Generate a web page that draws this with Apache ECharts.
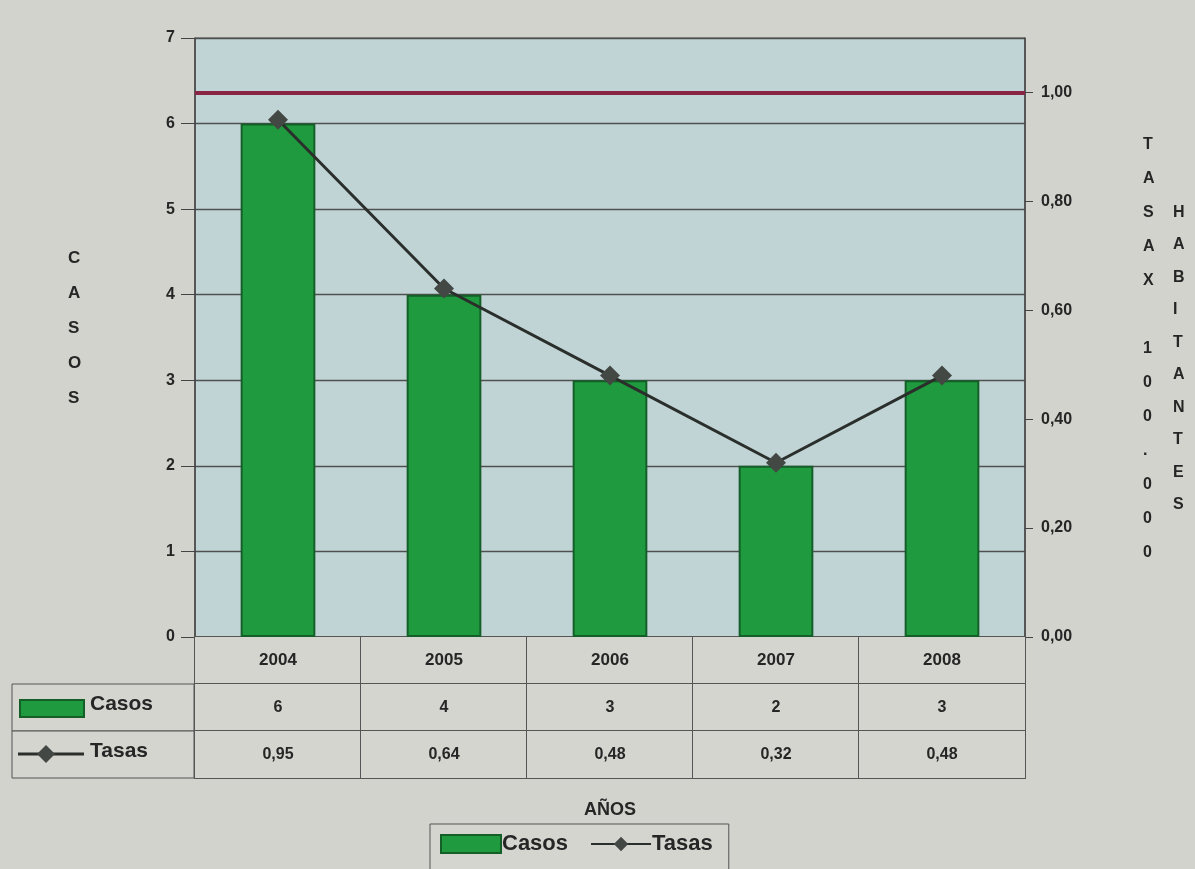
<!DOCTYPE html>
<html>
<head>
<meta charset="utf-8">
<script src="https://cdn.jsdelivr.net/npm/echarts@6/dist/echarts.min.js"></script>
<style>
  html, body { margin: 0; padding: 0; background: #d2d3cd; }
  #chart { width: 1195px; height: 869px; }
</style>
</head>
<body>
<div id="chart"></div>
<script>
  // data
  const years = ['2004', '2005', '2006', '2007', '2008'];
  const casos = [6, 4, 3, 2, 3];
  const tasas = [0.95, 0.64, 0.48, 0.32, 0.48];
  const casosTicks = { min: 0, max: 7, interval: 1 };
  const tasasTicks = { min: 0, max: 1.1, interval: 0.2 };
  const umbral = 1.0;

  const green = '#1f9a3e';
  const greenDark = '#145f28';
  const ink = '#262626';
  const font = 'Liberation Sans';
  const comma = v => v.toFixed(2).replace('.', ',');

  const cell = size => ({
    width: 166,
    height: 47,
    align: 'center',
    verticalAlign: 'middle',
    fontSize: size,
    fontWeight: 'bold',
    fontFamily: font,
    color: ink,
    borderColor: '#555',
    borderWidth: 1,
    backgroundColor: '#d4d5cf'
  });

  const chart = echarts.init(document.getElementById('chart'));

  chart.setOption({
    backgroundColor: '#d2d3cd',
    animation: false,
    textStyle: { fontFamily: font, color: ink },
    grid: {
      left: 195,
      right: 170,
      top: 38,
      bottom: 232,
      show: true,
      backgroundColor: '#c0d4d6',
      borderColor: '#4a4a4a',
      borderWidth: 1
    },
    legend: {
      left: 430,
      top: 824,
      data: [{ name: 'Casos', icon: 'rect' }, { name: 'Tasas' }],
      itemWidth: 60,
      itemHeight: 18,
      itemGap: 22,
      padding: [9, 16, 16, 10],
      borderColor: '#555',
      borderWidth: 1,
      backgroundColor: '#d4d5cf',
      textStyle: { fontSize: 22, fontWeight: 'bold', fontFamily: font, color: ink, padding: [0, 0, 0, -4] }
    },
    xAxis: {
      type: 'category',
      data: years,
      name: 'AÑOS',
      nameLocation: 'middle',
      nameGap: 164,
      nameTextStyle: { fontSize: 18, fontWeight: 'bold', color: ink },
      axisLine: { show: true, lineStyle: { color: '#444', width: 1.5 } },
      axisTick: { show: false },
      axisLabel: {
        interval: 0,
        margin: 0,
        verticalAlign: 'top',
        formatter: (value, i) =>
          `{y|${value}}\n{c|${casos[i]}}\n{t|${comma(tasas[i])}}`,
        rich: { y: cell(17), c: cell(16), t: cell(16) }
      }
    },
    yAxis: [
      {
        type: 'value',
        ...casosTicks,
        position: 'left',
        axisLine: { show: true, lineStyle: { color: '#444', width: 1.5 } },
        axisTick: { show: true, length: 14, lineStyle: { color: '#444' } },
        axisLabel: { margin: 20, fontSize: 16, fontWeight: 'bold', color: ink },
        splitLine: { lineStyle: { color: '#4f4f4f', width: 1.3 } }
      },
      {
        type: 'value',
        ...tasasTicks,
        position: 'right',
        axisLine: { show: true, lineStyle: { color: '#444', width: 1.5 } },
        axisTick: { show: true, length: 8, lineStyle: { color: '#444' } },
        axisLabel: {
          margin: 16,
          fontSize: 16,
          fontWeight: 'bold',
          color: ink,
          showMaxLabel: false,
          formatter: v => comma(v)
        },
        splitLine: { show: false }
      }
    ],
    series: [
      {
        name: 'Casos',
        type: 'bar',
        data: casos,
        barWidth: '45%',
        itemStyle: { color: green, borderColor: greenDark, borderWidth: 2 }
      },
      {
        name: 'Tasas',
        type: 'line',
        yAxisIndex: 1,
        data: tasas,
        symbol: 'diamond',
        symbolSize: 20,
        lineStyle: { color: '#2b2f2c', width: 3 },
        itemStyle: { color: '#444845' },
        markLine: {
          silent: true,
          symbol: 'none',
          label: { show: false },
          lineStyle: { color: '#8a2444', width: 4, type: 'solid' },
          data: [{ yAxis: umbral }]
        },
        z: 3
      }
    ],
    graphic: [
      // data table header column
      {
        type: 'rect',
        shape: { x: 12, y: 684, width: 182, height: 47 },
        style: { fill: '#d4d5cf', stroke: '#555', lineWidth: 1 }
      },
      {
        type: 'rect',
        shape: { x: 12, y: 731, width: 182, height: 47 },
        style: { fill: '#d4d5cf', stroke: '#555', lineWidth: 1 }
      },
      {
        type: 'rect',
        shape: { x: 20, y: 700, width: 64, height: 17 },
        style: { fill: green, stroke: greenDark, lineWidth: 2 }
      },
      {
        type: 'text',
        left: 90,
        top: 694,
        style: { text: 'Casos', fontSize: 21, fontWeight: 'bold', fontFamily: font, fill: ink }
      },
      {
        type: 'line',
        shape: { x1: 18, y1: 754, x2: 84, y2: 754 },
        style: { stroke: '#2b2f2c', lineWidth: 3 }
      },
      {
        type: 'polygon',
        shape: { points: [[46, 745], [55, 754], [46, 763], [37, 754]] },
        style: { fill: '#444845' }
      },
      {
        type: 'text',
        left: 90,
        top: 741,
        style: { text: 'Tasas', fontSize: 21, fontWeight: 'bold', fontFamily: font, fill: ink }
      },
      // left axis title, stacked letters
      {
        type: 'text',
        left: 68,
        top: 241,
        style: {
          text: 'C\nA\nS\nO\nS',
          fontSize: 17,
          fontWeight: 'bold',
          fontFamily: font,
          lineHeight: 35,
          align: 'center',
          fill: ink
        }
      },
      // right axis title, two stacked columns
      {
        type: 'text',
        left: 1143,
        top: 128,
        style: {
          text: 'T\nA\nS\nA\nX\n\n1\n0\n0\n.\n0\n0\n0',
          fontSize: 16,
          fontWeight: 'bold',
          fontFamily: font,
          lineHeight: 34,
          align: 'center',
          fill: ink
        }
      },
      {
        type: 'text',
        left: 1173,
        top: 196,
        style: {
          text: 'H\nA\nB\nI\nT\nA\nN\nT\nE\nS',
          fontSize: 16,
          fontWeight: 'bold',
          fontFamily: font,
          lineHeight: 32.5,
          align: 'center',
          fill: ink
        }
      }
    ]
  });
</script>
</body>
</html>
